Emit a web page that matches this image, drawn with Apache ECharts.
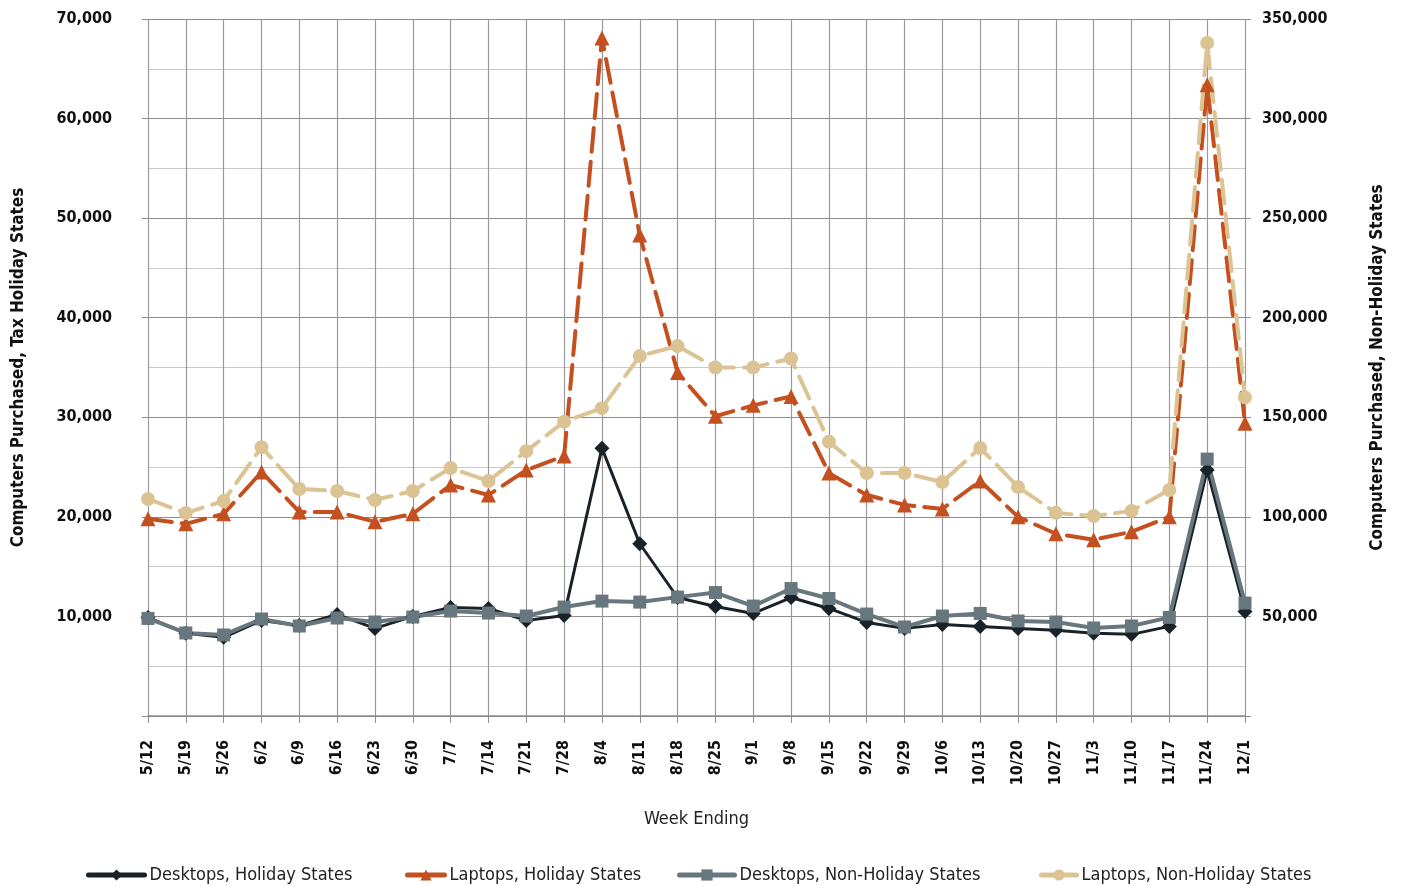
<!DOCTYPE html>
<html>
<head>
<meta charset="utf-8">
<script src="https://cdn.jsdelivr.net/npm/echarts@6/dist/echarts.min.js"></script>
<style>
html,body{margin:0;padding:0;background:#fff;}
#chart{width:1401px;height:886px;}
</style>
</head>
<body>
<div id="chart"></div>
<script>
const weeks = ['5/12','5/19','5/26','6/2','6/9','6/16','6/23','6/30','7/7','7/14','7/21','7/28','8/4','8/11','8/18','8/25','9/1','9/8','9/15','9/22','9/29','10/6','10/13','10/20','10/27','11/3','11/10','11/17','11/24','12/1'];
const desktopsHoliday = [9900,8300,7900,9600,9100,10200,8800,10000,10900,10800,9600,10100,26900,17300,11900,11000,10300,11900,10800,9400,8800,9200,9000,8800,8600,8300,8200,9000,24700,10500];
const laptopsHoliday = [19800,19300,20300,24500,20500,20500,19500,20300,23200,22200,24700,26100,68100,48300,34500,30100,31200,32100,24400,22200,21200,20800,23600,20000,18300,17700,18500,20000,63400,29400];
const desktopsNonHoliday = [49000,41700,40700,48700,45200,49200,47200,49700,52700,51700,50200,54700,57700,57200,59700,62000,55200,64000,59000,51200,44700,50200,51500,47700,47200,44200,45200,49500,129000,56700];
const laptopsNonHoliday = [109000,101900,108000,135000,114000,113000,108500,113000,124500,118000,133000,147800,154600,180800,185800,175000,175000,179500,137700,122000,122000,117500,134600,115000,102000,100400,103000,113500,338000,160000];
const leftTicks = [0,10000,20000,30000,40000,50000,60000,70000];
const rightTicks = [0,50000,100000,150000,200000,250000,300000,350000];

const FONT = "'Liberation Sans Narrow','Arial Narrow','DejaVu Sans Condensed',sans-serif";
const fmt = v => v === 0 ? '' : v.toLocaleString('en-US');

const chart = echarts.init(document.getElementById('chart'));
const series = [
  {name:'Desktops, Holiday States', data:desktopsHoliday, yAxisIndex:0, color:'#1a2229', symbol:'diamond', symbolSize:15, dash:'solid', width:3},
  {name:'Laptops, Holiday States', data:laptopsHoliday, yAxisIndex:0, color:'#c4501f', symbol:'triangle', symbolSize:15, dash:[24,10], width:4},
  {name:'Desktops, Non-Holiday States', data:desktopsNonHoliday, yAxisIndex:1, color:'#67777d', symbol:'rect', symbolSize:13, dash:'solid', width:4},
  {name:'Laptops, Non-Holiday States', data:laptopsNonHoliday, yAxisIndex:1, color:'#dbc394', symbol:'circle', symbolSize:14, dash:[24,10], width:4}
];
const legendLeft = [81, 400, 672, 1034];
const legendW = [56, 37, 55, 35];
chart.setOption({
  animation:false,
  backgroundColor:'#fff',
  grid:{left:148, right:156, top:19, bottom:170, containLabel:false, outerBoundsMode:'none'},
  legend: series.map((s,i)=>({
    data:[s.name], left:legendLeft[i], top:861, itemWidth:legendW[i], itemHeight:14, itemGap:10,
    lineStyle:{type:'solid', width:5},
    textStyle:{fontFamily:FONT, fontSize:18, color:'#222'}
  })),
  xAxis:{
    type:'category', data:weeks, boundaryGap:false,
    name:'Week Ending', nameLocation:'middle', nameGap:94,
    nameTextStyle:{fontFamily:FONT, fontSize:18, color:'#222'},
    axisLine:{lineStyle:{color:'#8c8c8c', width:1.5}},
    axisTick:{show:true, interval:0, length:7, lineStyle:{color:'#8c8c8c'}},
    axisLabel:{interval:0, rotate:90, margin:24, fontFamily:FONT, fontWeight:'bold', fontSize:16, color:'#111'},
    splitLine:{show:true, interval:0, lineStyle:{color:'#9a9a9a', width:1.2}}
  },
  yAxis:[
    {type:'value', min:0, max:70000, interval:10000,
     name:'Computers Purchased, Tax Holiday States', nameLocation:'middle', nameGap:121, nameRotate:90,
     nameTextStyle:{fontFamily:FONT, fontWeight:'bold', fontSize:17, color:'#111'},
     axisLine:{show:false},
     axisTick:{show:true, length:6, lineStyle:{color:'#8c8c8c'}},
     axisLabel:{margin:36, formatter:fmt, fontFamily:FONT, fontWeight:'bold', fontSize:16, color:'#111'},
     splitLine:{show:true, lineStyle:{color:'#8c8c8c', width:1.2}},
     minorTick:{show:false, splitNumber:2},
     minorSplitLine:{show:true, lineStyle:{color:'#c8c8c8', width:1.2}}
    },
    {type:'value', min:0, max:350000, interval:50000, position:'right',
     name:'Computers Purchased, Non-Holiday States', nameLocation:'middle', nameGap:124, nameRotate:90,
     nameTextStyle:{fontFamily:FONT, fontWeight:'bold', fontSize:17, color:'#111'},
     axisLine:{show:false},
     axisTick:{show:true, length:6, lineStyle:{color:'#8c8c8c'}},
     axisLabel:{margin:17, formatter:fmt, fontFamily:FONT, fontWeight:'bold', fontSize:16, color:'#111'},
     splitLine:{show:false}
    }
  ],
  series: series.map(s=>({
    name:s.name, type:'line', data:s.data, yAxisIndex:s.yAxisIndex,
    symbol:s.symbol, symbolSize:s.symbolSize, showSymbol:true,
    itemStyle:{color:s.color}, lineStyle:{color:s.color, width:s.width, type:s.dash, cap:'round'},
    emphasis:{disabled:true}
  }))
});
</script>
</body>
</html>
